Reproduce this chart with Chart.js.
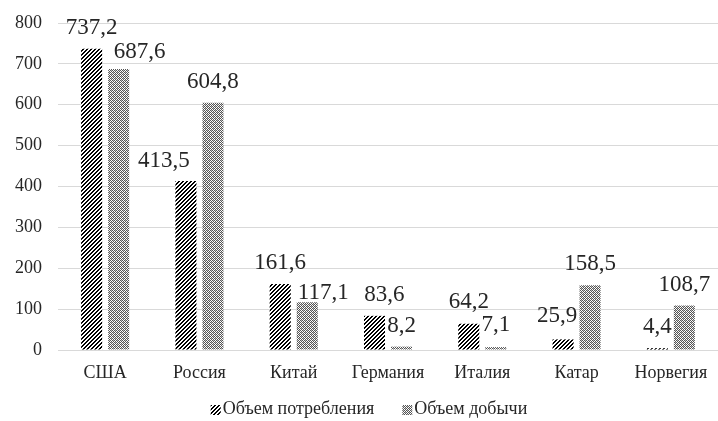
<!DOCTYPE html>
<html><head><meta charset="utf-8">
<script src="https://cdn.jsdelivr.net/npm/chart.js@4"></script>
<style>html,body{margin:0;padding:0;background:#fff}#w{width:718px;height:421px}</style>
</head><body><div id="w"><canvas id="c" width="718" height="421"></canvas></div>
<script>
const categories = ["США", "Россия", "Китай", "Германия", "Италия", "Катар", "Норвегия"];
const consumption = [737.2, 413.5, 161.6, 83.6, 64.2, 25.9, 4.4];
const production = [687.6, 604.8, 117.1, 8.2, 7.1, 158.5, 108.7];
const seriesNames = ["Объем потребления", "Объем добычи"];
const yTicks = [0, 100, 200, 300, 400, 500, 600, 700, 800];

// label nudges (style only), in px relative to bar centre / top
const labelShift = [
  [[0,-21],[-22,-20],[0,-21],[10,-21],[0,-22],[-6,-23],[0,-21]],
  [[21,-17],[0,-21],[16,-9],[0,-21],[0,-22],[0,-21],[0,-21]]
];

function hatch() {
  const c = document.createElement('canvas'); c.width = 4; c.height = 4;
  const x = c.getContext('2d');
  x.fillStyle = '#fff'; x.fillRect(0,0,4,4);
  x.fillStyle = '#000';
  const px = [[3,0],[2,1],[1,2],[0,3],[0,0],[3,1],[2,2],[1,3]];
  px.forEach(p => x.fillRect(p[0], p[1], 1, 1));
  return x.createPattern(c, 'repeat');
}
function cross() {
  const c = document.createElement('canvas'); c.width = 4; c.height = 4;
  const x = c.getContext('2d');
  x.fillStyle = '#fff'; x.fillRect(0,0,4,4);
  x.fillStyle = '#555';
  [[0,0],[2,0],[1,1],[3,1],[0,2],[2,2],[1,3],[3,3]].forEach(p => x.fillRect(p[0], p[1], 1, 1));
  x.fillStyle = '#bbb';
  [[1,0],[3,2]].forEach(p => x.fillRect(p[0], p[1], 1, 1));
  return x.createPattern(c, 'repeat');
}

const serif = "'Liberation Serif', 'Times New Roman', serif";

const labelPlugin = {
  id: 'vals',
  afterDatasetsDraw(chart) {
    const ctx = chart.ctx;
    ctx.save();
    ctx.font = "23px " + serif;
    ctx.fillStyle = '#262626';
    ctx.textAlign = 'center';
    ctx.textBaseline = 'middle';
    chart.data.datasets.forEach((ds, di) => {
      chart.getDatasetMeta(di).data.forEach((bar, i) => {
        const s = labelShift[di][i];
        ctx.fillText(String(ds.data[i]).replace('.', ','), bar.x + s[0], bar.y + s[1]);
      });
    });
    ctx.restore();
  }
};

// compact legend: box right next to text, wide gap between items
const legendPlugin = {
  id: 'compactLegend',
  afterDraw(chart) {
    const ctx = chart.ctx;
    ctx.save();
    ctx.font = "18px " + serif;
    ctx.textBaseline = 'middle';
    ctx.fillStyle = '#262626';
    const box = 10, gapBox = 2, gapItem = 28;
    const items = chart.data.datasets.map(ds => ({ t: ds.label, w: ctx.measureText(ds.label).width, bg: ds.backgroundColor }));
    const total = items.reduce((a, it) => a + box + gapBox + it.w, 0) + gapItem * (items.length - 1);
    let x = chart.width / 2 + 10 - total / 2;
    const y = chart.chartArea.bottom + 59;
    items.forEach(it => {
      ctx.fillStyle = it.bg;
      ctx.fillRect(x, y - 4, box, box);
      x += box + gapBox;
      ctx.fillStyle = '#262626';
      ctx.fillText(it.t, x, y);
      x += it.w + gapItem;
    });
    ctx.restore();
  }
};

new Chart(document.getElementById('c'), {
  type: 'bar',
  data: {
    labels: categories,
    datasets: [
      { label: seriesNames[0], data: consumption, backgroundColor: hatch(), borderWidth: 0 },
      { label: seriesNames[1], data: production, backgroundColor: cross(), borderWidth: 0 }
    ]
  },
  options: {
    responsive: false,
    animation: false,
    devicePixelRatio: 1,
    layout: { padding: { top: 23, right: 0, left: 1, bottom: 24 } },
    datasets: { bar: { categoryPercentage: 0.573, barPercentage: 0.778 } },
    scales: {
      x: {
        afterFit: s => { s.height = 47; s.paddingLeft = 0; s.paddingRight = 0; },
        grid: { display: false, drawTicks: false },
        border: { color: '#d9d9d9', width: 1 },
        ticks: { color: '#262626', font: { family: serif, size: 18 }, padding: 12 }
      },
      y: {
        min: 0, max: 800,
        afterBuildTicks: s => { s.ticks = yTicks.map(v => ({ value: v })); },
        afterFit: s => { s.width = 57; s.paddingTop = 0; s.paddingBottom = 0; },
        grid: { color: '#d9d9d9', drawTicks: false },
        border: { display: false },
        ticks: { color: '#262626', font: { family: serif, size: 18 }, padding: 16 }
      }
    },
    plugins: {
      legend: { display: false },
      tooltip: { enabled: false }
    }
  },
  plugins: [labelPlugin, legendPlugin]
});
</script></body></html>
